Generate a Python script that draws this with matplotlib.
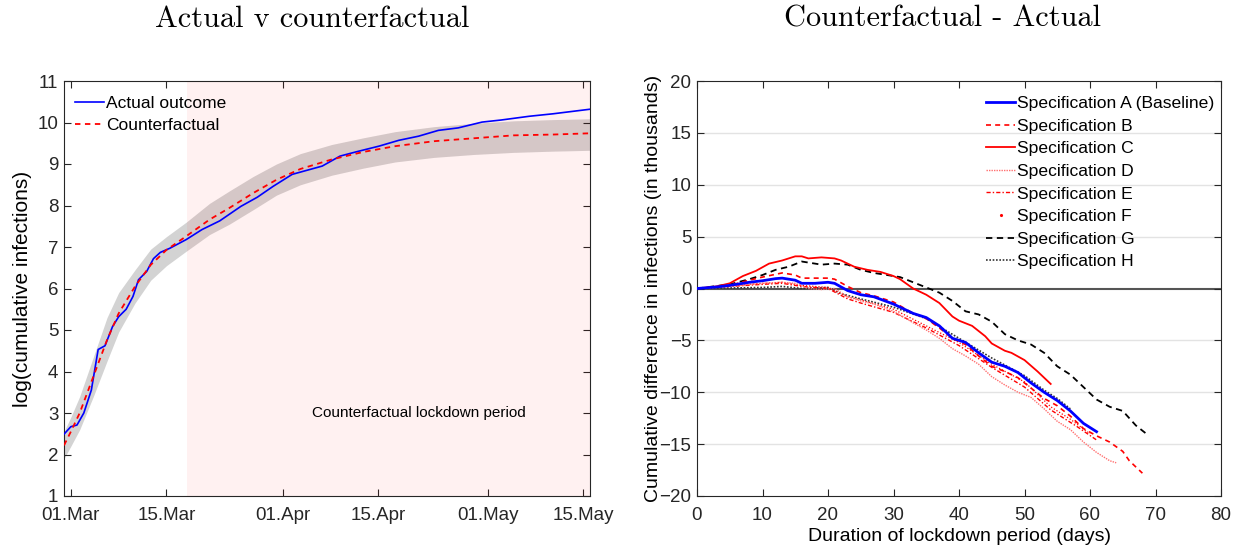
"""Actual vs counterfactual infections, and cumulative difference by lockdown length."""

import numpy as np
import matplotlib
matplotlib.use("Agg")
import matplotlib.pyplot as plt
from matplotlib.lines import Line2D

plt.rcParams['font.family'] = ['Liberation Sans', 'DejaVu Sans']

# ---- left panel: log cumulative infections, days since 01.Mar ----
actual_days = [-1, 0, 0.9, 1.9, 3, 4, 5, 6.1, 7, 8.1, 9.1, 9.9, 11.1, 12.1, 13.1,
               14.5, 16.9, 19.2, 21.8, 24.9, 27.3, 29.6, 32.4, 36.8, 39.4, 41.7,
               45.1, 48, 50.9, 53.8, 56.7, 60.2, 63, 67.1, 70.6, 76]
actual_log = [2.49, 2.67, 2.71, 3.0, 3.55, 4.53, 4.62, 5.08, 5.32, 5.5, 5.81, 6.21,
              6.41, 6.72, 6.87, 6.97, 7.18, 7.42, 7.63, 7.98, 8.2, 8.46, 8.75, 8.95,
              9.19, 9.29, 9.43, 9.57, 9.67, 9.81, 9.87, 10.01, 10.06, 10.15, 10.21, 10.32]

cf_days = [-1, 0, 1.3, 3.3, 5.3, 7, 9.4, 11.7, 14, 16.9, 20.3, 23.2, 26.7, 30.1,
           33.6, 38.2, 42.8, 47.5, 53.2, 59, 64.8, 70.6, 76]
cf_log = [2.22, 2.55, 3.0, 3.88, 4.76, 5.4, 6.05, 6.57, 6.93, 7.26, 7.66, 7.94, 8.3,
          8.62, 8.88, 9.11, 9.29, 9.43, 9.55, 9.62, 9.69, 9.71, 9.74]
cf_upper = [2.55, 2.9, 3.4, 4.35, 5.3, 5.9, 6.45, 6.95, 7.25, 7.6, 8.05, 8.35, 8.7,
            9.0, 9.25, 9.47, 9.63, 9.78, 9.9, 9.98, 10.04, 10.07, 10.09]
cf_lower = [1.9, 2.2, 2.6, 3.4, 4.25, 4.95, 5.65, 6.2, 6.55, 6.9, 7.3, 7.55, 7.9,
            8.25, 8.5, 8.73, 8.9, 9.05, 9.16, 9.23, 9.28, 9.31, 9.33]

lockdown_start = 17  # 18.Mar
date_ticks = [0, 14, 31, 45, 61, 75]
date_labels = ['01.Mar', '15.Mar', '01.Apr', '15.Apr', '01.May', '15.May']

# ---- right panel: counterfactual - actual (thousands) ----
a_days = [0, 3, 5, 8, 10, 12, 13, 15, 16, 18, 20, 21, 23, 25, 27, 30, 33, 35, 37,
          39, 41, 43, 45, 47, 49, 51, 53, 55, 57, 59, 61]
a_vals = [0, 0.15, 0.3, 0.6, 0.75, 0.95, 1.0, 0.8, 0.5, 0.5, 0.6, 0.5, -0.2, -0.6,
          -0.8, -1.5, -2.4, -2.8, -3.6, -4.8, -5.2, -6.2, -7.1, -7.5, -8.1, -9.1,
          -10.0, -10.8, -11.8, -13.0, -13.8]
b_days = [0, 5, 8, 10, 13, 15, 16, 18, 20, 21, 23, 25, 27, 30, 33, 35, 37, 39, 41,
          43, 45, 47, 49, 51, 53, 55, 57, 59, 61, 63, 65, 66, 68]
b_vals = [0, 0.3, 0.8, 1.1, 1.5, 1.3, 1.0, 1.0, 1.0, 0.9, 0.2, -0.4, -0.7, -1.3,
          -2.4, -2.9, -3.8, -4.8, -5.4, -6.5, -7.5, -8.0, -8.6, -9.6, -10.6, -11.3,
          -12.3, -13.5, -14.2, -14.8, -15.7, -16.6, -17.8]
c_days = [0, 3, 5, 7, 9, 11, 13, 15, 16, 17, 19, 21, 22, 24, 26, 28, 30, 31, 33,
          35, 37, 39, 40, 42, 44, 45, 47, 48, 50, 52, 54]
c_vals = [0, 0.2, 0.5, 1.2, 1.7, 2.4, 2.7, 3.1, 3.1, 2.9, 3.0, 2.9, 2.7, 2.1, 1.8,
          1.6, 1.2, 0.9, 0.0, -0.6, -1.4, -2.7, -3.1, -3.6, -4.6, -5.3, -6.0, -6.2,
          -6.9, -8.0, -9.2]
d_days = [0, 5, 8, 10, 13, 15, 17, 19, 21, 23, 25, 27, 30, 33, 35, 37, 39, 41, 43,
          45, 47, 49, 51, 53, 55, 57, 59, 61, 63, 64]
d_vals = [0, 0.2, 0.4, 0.5, 0.6, 0.5, 0.0, -0.1, 0.0, -0.8, -1.2, -1.5, -2.2, -3.3,
          -4.0, -4.8, -5.8, -6.5, -7.3, -8.5, -9.3, -10.0, -10.5, -11.6, -12.8,
          -13.6, -14.8, -15.8, -16.6, -16.8]
e_days = [0, 5, 10, 13, 16, 20, 23, 25, 30, 35, 40, 45, 50, 54, 58, 61]
e_vals = [0, 0.2, 0.4, 0.5, 0.2, 0.0, -1.0, -1.4, -2.3, -3.8, -5.5, -7.6, -9.5,
          -11.7, -13.3, -14.6]
f_days = [0, 5, 10, 13, 16, 20, 23, 25, 30, 35, 40, 45, 50, 54, 57, 60]
f_vals = [0, 0.25, 0.5, 0.6, 0.3, 0.1, -0.8, -1.1, -2.0, -3.6, -5.2, -7.3, -9.0,
          -11.4, -12.6, -14.0]
g_days = [0, 5, 8, 10, 12, 14, 16, 17, 19, 21, 23, 25, 27, 29, 31, 33, 35, 37, 39,
          41, 43, 45, 47, 49, 51, 53, 55, 57, 59, 61, 63, 65, 67, 69]
g_vals = [0, 0.4, 0.9, 1.3, 1.8, 2.1, 2.6, 2.5, 2.3, 2.4, 2.3, 1.8, 1.5, 1.3, 1.1,
          0.6, 0.1, -0.4, -1.2, -2.2, -2.5, -3.2, -4.4, -5.0, -5.4, -6.2, -7.5,
          -8.3, -9.5, -10.7, -11.4, -11.8, -13.2, -14.2]
h_days = [0, 5, 10, 13, 16, 20, 22, 25, 30, 35, 40, 45, 50, 53, 55, 57]
h_vals = [0, 0.05, 0.1, 0.2, 0.0, 0.1, -0.5, -1.0, -1.8, -2.9, -4.8, -6.7, -8.4,
          -9.8, -10.6, -11.6]

fig = plt.figure(figsize=(12.44, 5.53), dpi=100)
ax1 = fig.add_axes([64 / 1244, 1 - 496 / 553, 526 / 1244, 415 / 553])
ax2 = fig.add_axes([697 / 1244, 1 - 496 / 553, 524 / 1244, 415 / 553])

tick_color = '#262626'

# left
ax1.fill_between(cf_days, cf_lower, cf_upper, color='#d3d3d3', lw=0, zorder=1)
ax1.axvspan(lockdown_start, 76, color='red', alpha=0.055, lw=0, zorder=2)
ax1.plot(actual_days, actual_log, color='blue', lw=1.2, label='Actual outcome', zorder=3)
ax1.plot(cf_days, cf_log, color='red', ls=(0, (3, 2.5)), lw=1.3, label='Counterfactual', zorder=4)
ax1.text(51, 3.0, 'Counterfactual lockdown period', ha='center', va='center', fontsize=11)
ax1.set_xlim(-1, 76)
ax1.set_ylim(1, 11)
ax1.set_xticks(date_ticks)
ax1.set_xticklabels(date_labels)
ax1.set_yticks(range(1, 12))
ax1.set_ylabel('log(cumulative infections)', fontsize=15, labelpad=4)
ax1.legend(loc='upper left', frameon=False, fontsize=12.5, handlelength=1.7,
           handletextpad=0.1, labelspacing=0.42, borderaxespad=0.45,
           bbox_to_anchor=(-0.008, 1.0))

# right
for yv in [-15, -10, -5, 5, 10, 15]:
    ax2.axhline(yv, color='#e3e3e3', lw=1, zorder=0)
ax2.axhline(0, color='#555555', lw=1.5, zorder=1)
ax2.plot(h_days, h_vals, color='#333333', ls=(0, (1, 1)), lw=1.2, zorder=2)
ax2.plot(g_days, g_vals, color='black', ls=(0, (3.5, 2.5)), lw=1.3, zorder=2)
ax2.plot(f_days, f_vals, color='red', ls=(0, (1, 1.5)), lw=0.9, zorder=2)
ax2.plot(e_days, e_vals, color='red', ls=(0, (3, 1.5, 1, 1.5)), lw=1.0, zorder=2)
ax2.plot(d_days, d_vals, color='#ff7070', ls=(0, (1, 0.8)), lw=1.0, zorder=2)
ax2.plot(c_days, c_vals, color='red', lw=1.3, zorder=2)
ax2.plot(b_days, b_vals, color='red', ls=(0, (3, 2.5)), lw=1.2, zorder=2)
ax2.plot(a_days, a_vals, color='blue', lw=2, zorder=3)

handles = [
    Line2D([], [], color='blue', lw=2),
    Line2D([], [], color='red', ls=(0, (3, 2.5)), lw=1.2),
    Line2D([], [], color='red', lw=1.3),
    Line2D([], [], color='#ff7070', ls=(0, (1, 0.8)), lw=1.0),
    Line2D([], [], color='red', ls=(0, (3, 1.5, 1, 1.5)), lw=1.0),
    Line2D([], [], color='red', ls='none', marker='.', markersize=2.5),
    Line2D([], [], color='black', ls=(0, (3.5, 2.5)), lw=1.3),
    Line2D([], [], color='#333333', ls=(0, (1, 1)), lw=1.2),
]
labels = ['Specification A (Baseline)', 'Specification B', 'Specification C',
          'Specification D', 'Specification E', 'Specification F',
          'Specification G', 'Specification H']
ax2.legend(handles, labels, loc='upper right', frameon=False, fontsize=12.6,
           handlelength=1.7, handletextpad=0.1, labelspacing=0.42,
           borderaxespad=0.45, bbox_to_anchor=(1.016, 1.0))
ax2.set_xlim(0, 80)
ax2.set_ylim(-20, 20)
ax2.set_xticks(range(0, 81, 10))
ax2.set_yticks(range(-20, 21, 5))
ax2.set_xlabel('Duration of lockdown period (days)', fontsize=14, labelpad=3)
ax2.set_ylabel('Cumulative difference in infections (in thousands)', fontsize=14, labelpad=-2)

for ax in (ax1, ax2):
    ax.tick_params(direction='in', top=True, right=True, length=5, width=0.8,
                   colors=tick_color, labelsize=13.5, labelcolor='#262626')
    ax.tick_params(axis='x', pad=8)
    ax.tick_params(axis='y', pad=4)
    for sp in ax.spines.values():
        sp.set_color(tick_color)
        sp.set_linewidth(0.8)

title_font = dict(family=['cmr10', 'DejaVu Serif'], fontsize=21.8, ha='center', va='center')
fig.text(312 / 1244, 1 - 19 / 553, 'Actual v counterfactual', **title_font)
fig.text(943 / 1244, 1 - 19 / 553, 'Counterfactual - Actual', **title_font)

fig.savefig('out.png', dpi=100)
